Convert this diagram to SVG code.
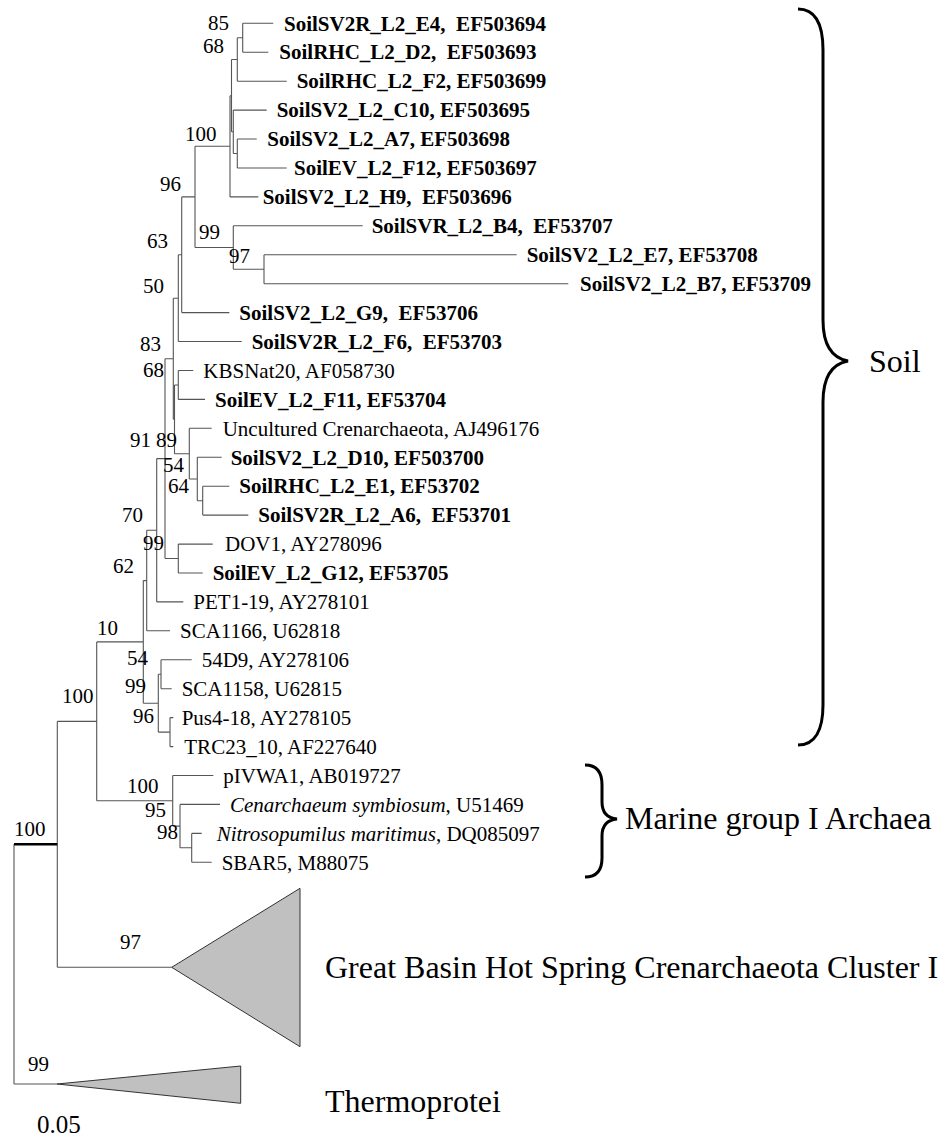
<svg xmlns="http://www.w3.org/2000/svg" width="941" height="1148" viewBox="0 0 941 1148">
<style>
text{font-family:"Liberation Serif","Times New Roman",serif;fill:#000}
.lf{font-size:21px;white-space:pre}
.b{font-weight:bold}
.bs{font-size:21px}
.big{font-size:32px}
.br{fill:none;stroke:#555;stroke-width:1.1}
.tri{fill:#c0c0c0;stroke:#333;stroke-width:1}
.brace{fill:none;stroke:#000;stroke-width:3}
</style>
<rect width="941" height="1148" fill="#fff"/>
<g id="connectors">
<path class="br" d="M242.7 23.3V52.2M242.7 23.3H273.3M242.7 52.2H268.3M237.3 37.7H242.7
M237.3 37.7V81.2M237.3 81.2H286.7M231.5 59.5H237.3
M237.3 139V168M237.3 139H256.7M237.3 168H286.7M233.3 153.5H237.3
M233.3 110.1V153.5M233.3 110.1H266.7M231.5 131.8H233.3
M231.5 59.5V131.8M230 95.7H231.5
M230 95.7V196.9M230 196.9H258.3M195 146.3H230
M264 254.7V283.7M264 254.7H516.7M264 283.7H568.3M233.3 269.2H264
M233.3 225.8V269.2M233.3 225.8H362.7M195 247.5H233.3
M195 146.3V247.5M181.7 196.9H195
M181.7 196.9V312.6M181.7 312.6H229.3M178.3 254.8H181.7
M178.3 254.8V341.5M178.3 341.5H241.7M173.3 298.2H178.3
M178.3 370.5V399.4M178.3 370.5H193.3M178.3 399.4H205M174.5 385H178.3
M202.7 486.2V515.1M202.7 486.2H229.3M202.7 515.1H248.3M197.3 500.7H202.7
M197.3 457.3V500.7M197.3 457.3H221.7M189.3 479H197.3
M189.3 428.3V479M189.3 428.3H211.7M174.5 453.7H189.3
M174.5 385V453.7M173.3 419.3H174.5
M173.3 298.2V419.3M165 358.8H173.3
M178.3 544.1V573M178.3 544.1H212.7M178.3 573H202.7M165 558.5H178.3
M165 358.8V558.5M156.7 458.6H165
M156.7 458.6V601.9M156.7 601.9H183.3M146.7 530.3H156.7
M146.7 530.3V630.8M146.7 630.8H170M143.3 580.6H146.7
M161 659.8V688.7M161 659.8H191.7M161 688.7H171.7M158.3 674.2H161
M170 717.6V746.6M170 717.6H173.3M170 746.6H173.3M158.3 732.1H170
M158.3 674.2V732.1M143.3 703.2H158.3
M143.3 580.6V703.2M96.7 641.9H143.3
M191.7 833.4V862.3M191.7 833.4H201.7M191.7 862.3H211.7M180 847.8H191.7
M180 804.4V847.8M180 804.4H220M172.7 826.1H180
M172.7 775.5V826.1M172.7 775.5H213.3M96.7 800.8H172.7
M96.7 641.9V800.8M57.3 721.4H96.7
M57.3 721.4V967.3M57.3 967.3H171.7
M14 844.3V1084M14 1084H57"/>
<path d="M14 844.3H57.3" fill="none" stroke="#000" stroke-width="2.5"/>
</g>
<g id="leaves">
<text class="lf b" x="284" y="30.5">SoilSV2R_L2_E4,  EF503694</text>
<text class="lf b" x="279.3" y="59.4">SoilRHC_L2_D2,  EF503693</text>
<text class="lf b" x="296.7" y="88.4">SoilRHC_L2_F2, EF503699</text>
<text class="lf b" x="276.7" y="117.3">SoilSV2_L2_C10, EF503695</text>
<text class="lf b" x="267.3" y="146.2">SoilSV2_L2_A7, EF503698</text>
<text class="lf b" x="294" y="175.2">SoilEV_L2_F12, EF503697</text>
<text class="lf b" x="262.7" y="204.1">SoilSV2_L2_H9,  EF503696</text>
<text class="lf b" x="371.7" y="233">SoilSVR_L2_B4,  EF53707</text>
<text class="lf b" x="526.7" y="261.9">SoilSV2_L2_E7, EF53708</text>
<text class="lf b" x="580" y="290.9">SoilSV2_L2_B7, EF53709</text>
<text class="lf b" x="239.3" y="319.8">SoilSV2_L2_G9,  EF53706</text>
<text class="lf b" x="251.7" y="348.7">SoilSV2R_L2_F6,  EF53703</text>
<text class="lf" x="203.3" y="377.7">KBSNat20, AF058730</text>
<text class="lf b" x="215" y="406.6">SoilEV_L2_F11, EF53704</text>
<text class="lf" x="222.7" y="435.5">Uncultured Crenarchaeota, AJ496176</text>
<text class="lf b" x="230.7" y="464.5">SoilSV2_L2_D10, EF503700</text>
<text class="lf b" x="239.3" y="493.4">SoilRHC_L2_E1, EF53702</text>
<text class="lf b" x="258.3" y="522.3">SoilSV2R_L2_A6,  EF53701</text>
<text class="lf" x="225" y="551.3">DOV1, AY278096</text>
<text class="lf b" x="212.7" y="580.2">SoilEV_L2_G12, EF53705</text>
<text class="lf" x="193.3" y="609.1">PET1-19, AY278101</text>
<text class="lf" x="180" y="638">SCA1166, U62818</text>
<text class="lf" x="201.7" y="667">54D9, AY278106</text>
<text class="lf" x="181.7" y="695.9">SCA1158, U62815</text>
<text class="lf" x="181.7" y="724.8">Pus4-18, AY278105</text>
<text class="lf" x="184.3" y="753.8">TRC23_10, AF227640</text>
<text class="lf" x="223.3" y="782.7">pIVWA1, AB019727</text>
<text class="lf" x="230" y="811.6"><tspan font-style="italic">Cenarchaeum symbiosum</tspan>, U51469</text>
<text class="lf" x="216.7" y="840.6"><tspan font-style="italic">Nitrosopumilus maritimus</tspan>, DQ085097</text>
<text class="lf" x="221.7" y="869.5">SBAR5, M88075</text>
</g>
<g id="collapsed">
<polygon class="tri" points="171.7,967.3 300,888.3 300,1046.7"/>
<polygon class="tri" points="57,1084 240.7,1066 240.7,1103.3"/>
</g>
<g id="bootstrap">
<text class="bs" x="208" y="30">85</text>
<text class="bs" x="203" y="53">68</text>
<text class="bs" x="185" y="141">100</text>
<text class="bs" x="160" y="191">96</text>
<text class="bs" x="199" y="239">99</text>
<text class="bs" x="229" y="263">97</text>
<text class="bs" x="147" y="248">63</text>
<text class="bs" x="143" y="293">50</text>
<text class="bs" x="140" y="351">83</text>
<text class="bs" x="143" y="377">68</text>
<text class="bs" x="130" y="447">91</text>
<text class="bs" x="156" y="447">89</text>
<text class="bs" x="163" y="472">54</text>
<text class="bs" x="168" y="493">64</text>
<text class="bs" x="122" y="522">70</text>
<text class="bs" x="143" y="550">99</text>
<text class="bs" x="113" y="573">62</text>
<text class="bs" x="97" y="635">10</text>
<text class="bs" x="127" y="665">54</text>
<text class="bs" x="125" y="693">99</text>
<text class="bs" x="133" y="723">96</text>
<text class="bs" x="62" y="703">100</text>
<text class="bs" x="127" y="793">100</text>
<text class="bs" x="145" y="817">95</text>
<text class="bs" x="157" y="839">98</text>
<text class="bs" x="14" y="836">100</text>
<text class="bs" x="120" y="949">97</text>
<text class="bs" x="28" y="1071">99</text>
<text x="37" y="1133" font-size="25">0.05</text>
</g>
<g id="groups">
<path class="brace" d="M798 9C815 9 823 24 823 50L823 320C823 345 832 358 848 361C832 364 823 377 823 402L823 705C823 730 815 745 798 745"/>
<text class="big" x="869" y="372">Soil</text>
<path class="brace" d="M585 765C597 765 602 772 602 785L602 802C602 812 607 818 617 819C607 820 602 826 602 836L602 858C602 870 597 877 585 877"/>
<text class="big" x="625" y="829">Marine group I Archaea</text>
<text class="big" x="325" y="978">Great Basin Hot Spring Crenarchaeota Cluster I</text>
<text class="big" x="325" y="1112">Thermoprotei</text>
</g>
</svg>
